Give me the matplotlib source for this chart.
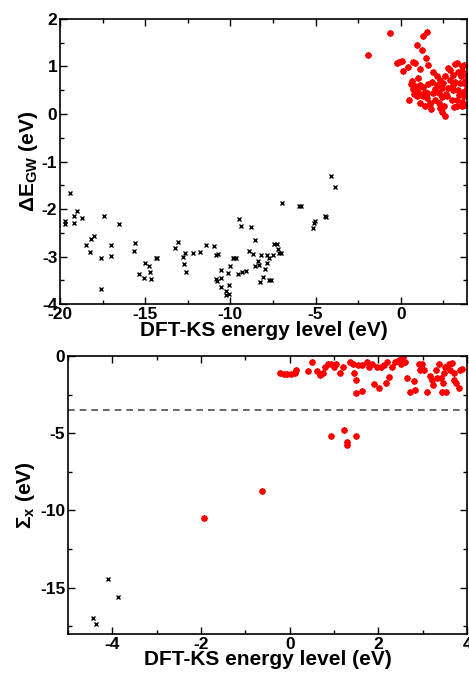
import numpy as np
import matplotlib
matplotlib.use('Agg')
import matplotlib.pyplot as plt
from matplotlib.ticker import MultipleLocator

plt.rcParams['font.family'] = ['Liberation Sans', 'DejaVu Sans']
plt.rcParams['font.weight'] = 'bold'
plt.rcParams['axes.unicode_minus'] = False
plt.rcParams['mathtext.fontset'] = 'custom'
plt.rcParams['mathtext.rm'] = 'Liberation Sans:bold'
plt.rcParams['mathtext.bf'] = 'Liberation Sans:bold'
plt.rcParams['mathtext.it'] = 'Liberation Sans:bold'

# top panel: occupied states (black) and unoccupied states (red)
occ_x = [-19.71, -19.71, -19.39, -19.2, -19.2, -18.98, -18.71, -18.49, -18.22, -18.18,
         -17.98, -17.61, -17.57, -17.40, -17.03, -17.03, -16.56, -15.64, -15.58, -15.36,
         -15.09, -15.03, -14.79, -14.70, -14.64, -14.34, -14.31, -13.27, -13.09, -12.78,
         -12.64, -12.72, -12.58, -12.19, -11.76, -11.45, -10.98, -10.82, -10.70, -10.53,
         -10.82, -10.78, -10.53, -10.55, -10.25, -10.27, -10.08, -10.10, -10.16, -10.02,
         -9.84, -9.67, -9.77, -9.49, -9.39, -9.55, -9.30, -9.06, -8.92, -8.79,
         -8.65, -8.57, -8.53, -8.36, -8.30, -8.18, -8.24, -8.06, -7.96, -7.85,
         -7.85, -7.75, -7.73, -7.59, -7.50, -7.46, -7.26, -7.22, -7.16, -7.03,
         -6.99, -5.99, -5.83, -5.15, -5.11, -5.01, -4.42, -4.36, -4.09, -3.86]
occ_dE = [-2.25, -2.32, -1.67, -2.14, -2.30, -2.05, -2.19, -2.76, -2.91, -2.62,
          -2.56, -3.02, -3.67, -2.15, -2.76, -2.99, -2.32, -2.88, -2.72, -3.37,
          -3.44, -3.13, -3.19, -3.32, -3.48, -3.03, -3.02, -2.81, -2.70, -3.00,
          -2.93, -3.16, -3.33, -2.93, -2.91, -2.76, -2.78, -2.97, -2.95, -3.28,
          -3.46, -3.52, -3.45, -3.63, -3.72, -3.81, -3.79, -3.60, -3.35, -3.19,
          -3.02, -3.02, -3.02, -2.21, -2.36, -3.37, -3.33, -3.31, -2.88, -2.38,
          -2.95, -2.65, -3.19, -3.09, -3.18, -2.96, -3.54, -3.42, -3.26, -2.97,
          -3.14, -3.02, -3.49, -3.49, -2.97, -2.74, -2.74, -2.83, -2.93, -2.93,
          -1.87, -1.93, -1.93, -2.39, -2.30, -2.25, -2.15, -2.17, -1.31, -1.53]

unocc_x = [-0.63, -1.94, 1.29, 1.53, 0.94, 1.24, -0.08, 0.06, -0.20, 0.16,
           0.41, 0.75, 0.86, 1.14, 1.49, 1.63, 1.92, 2.12, 0.65, 0.84,
           1.14, 1.33, 1.04, 0.94, 0.51, 1.53, 1.73, 2.02, 2.22, 2.12,
           2.31, 2.75, 2.90, 3.20, 3.29, 3.59, 3.73, 3.39, 3.53, 3.10,
           2.90, 3.20, 3.49, 3.73, 2.80, 3.10, 3.39, 3.65, 2.71, 3.00,
           3.29, 3.59, 3.78, 2.55, 2.31, 2.61, 1.76, 1.43, 1.14, 1.33,
           1.92, 2.41, 2.51, 1.82, 3.29, 3.59, 3.69, 3.88, 3.88, 2.22,
           1.53, 0.70, 0.78, 0.95, 1.10, 1.40, 1.60, 1.70, 2.00, 2.40,
           2.60, 2.65, 3.05, 3.45, 3.80, 3.15, 2.45, 1.00, 0.60, 3.60]
unocc_dE = [1.70, 1.24, 1.63, 1.72, 1.45, 1.35, 1.10, 1.12, 1.07, 0.91,
            0.98, 1.10, 1.07, 0.95, 1.17, 1.03, 0.89, 0.79, 0.70, 0.59,
            0.61, 0.56, 0.47, 0.37, 0.30, 0.33, 0.23, 0.30, 0.44, 0.61,
            0.72, 0.96, 0.93, 1.05, 1.08, 1.00, 1.03, 0.89, 0.79, 0.82,
            0.72, 0.68, 0.65, 0.65, 0.54, 0.51, 0.51, 0.47, 0.37, 0.30,
            0.30, 0.26, 0.19, 0.16, 0.12, -0.04, 0.10, 0.16, 0.23, 0.37,
            0.44, 0.54, 0.65, 0.68, 0.16, 0.16, 0.37, 0.54, 0.82, 0.23,
            0.45, 0.52, 0.42, 0.55, 0.40, 0.46, 0.62, 0.20, 0.52, 0.36,
            0.80, 0.42, 0.60, 0.40, 0.70, 0.15, 0.05, 0.75, 0.62, 0.90]

# bottom panel: exchange self-energy
occ2_x = [-4.44, -4.36, -4.09, -3.87]
occ2_sx = [-16.95, -17.35, -14.47, -15.63]

unocc2_x = [-1.93, -0.62, 0.92, 1.22, 1.50, 1.28, 1.28,
            -0.21, -0.14, -0.06, 0.03, 0.11, 0.15, 0.41, 0.50, 0.62, 0.69,
            0.75, 0.80, 0.86, 0.92, 0.99, 1.05, 1.13, 1.20, 1.37, 1.43,
            1.46, 1.49, 1.50, 1.64, 1.53, 1.62, 1.74, 1.78, 1.86, 1.89,
            1.97, 2.01, 2.05, 2.12, 2.20, 2.18, 2.23, 2.31, 2.38, 2.46,
            2.50, 2.56, 2.61, 2.65, 2.71, 2.81, 2.83, 2.91, 2.93, 2.98,
            3.02, 3.10, 3.16, 3.21, 3.24, 3.29, 3.36, 3.40, 3.44, 3.46,
            3.51, 3.53, 3.59, 3.62, 3.66, 3.70, 3.76, 3.81, 3.85, 3.88,
            3.70, 3.48, 3.32]
unocc2_sx = [-10.49, -8.71, -5.16, -4.78, -5.20, -5.57, -5.76,
             -1.12, -1.17, -1.17, -1.17, -1.12, -0.91, -0.97, -0.38, -0.95, -1.23,
             -1.08, -0.70, -0.53, -0.53, -0.70, -0.53, -1.08, -0.70, -0.38, -0.49,
             -1.12, -1.55, -2.39, -2.25, -0.59, -0.59, -0.38, -0.70, -0.49, -1.80,
             -0.70, -2.08, -0.70, -0.59, -0.38, -1.72, -1.33, -0.70, -0.38, -0.23,
             -0.49, -0.06, -0.38, -1.44, -2.35, -1.65, -2.22, -0.49, -0.91, -0.49,
             -0.91, -2.35, -1.29, -1.55, -1.86, -0.91, -0.49, -1.44, -2.35, -1.76,
             -0.70, -2.35, -0.49, -0.91, -0.44, -1.08, -1.76, -2.08, -0.91, -0.87,
             -1.55, -1.12, -1.44]

cutoff = -3.5

fig = plt.figure(figsize=(4.69, 6.73), dpi=100)
ax1 = fig.add_axes([0.128, 0.548, 0.868, 0.424])
ax2 = fig.add_axes([0.145, 0.058, 0.851, 0.413])

star = dict(marker=(8, 2, 0), ls='none', color='red', ms=4.5, mew=1.3)
cross = dict(marker='x', ls='none', color='black', ms=3.5, mew=1.0)

ax1.plot(occ_x, occ_dE, **cross)
ax1.plot(unocc_x, unocc_dE, **star)
ax1.set_xlim(-20, 3.9)
ax1.set_ylim(-4, 2)
ax1.xaxis.set_major_locator(MultipleLocator(5))
ax1.xaxis.set_minor_locator(MultipleLocator(2.5))
ax1.yaxis.set_major_locator(MultipleLocator(1))
ax1.yaxis.set_minor_locator(MultipleLocator(0.5))
ax1.set_xlabel('DFT-KS energy level (eV)', fontsize=15, fontweight='bold', labelpad=-1)
ax1.set_ylabel(r'$\Delta$E$_{\rm GW}$ (eV)', fontsize=15, fontweight='bold', labelpad=1)

ax2.plot(occ2_x, occ2_sx, **cross)
ax2.plot(unocc2_x, unocc2_sx, **star)
ax2.axhline(cutoff, color='0.3', ls=(0, (4, 3)), lw=1.2)
ax2.set_xlim(-5, 4)
ax2.set_ylim(-18, 0)
ax2.xaxis.set_major_locator(MultipleLocator(2))
ax2.xaxis.set_minor_locator(MultipleLocator(1))
ax2.yaxis.set_major_locator(MultipleLocator(5))
ax2.yaxis.set_minor_locator(MultipleLocator(2.5))
ax2.set_xlabel('DFT-KS energy level (eV)', fontsize=15, fontweight='bold', labelpad=-1)
ax2.set_ylabel(r'$\Sigma_{\rm x}$ (eV)', fontsize=15, fontweight='bold', labelpad=2)

for ax in (ax1, ax2):
    ax.tick_params(which='both', direction='in', top=True, right=True, labelsize=12.5, width=1)
    ax.tick_params(which='major', length=5, pad=2)
    ax.tick_params(which='minor', length=3)
    for lbl in ax.get_xticklabels() + ax.get_yticklabels():
        lbl.set_fontweight('bold')
    for s in ax.spines.values():
        s.set_linewidth(1.2)

fig.savefig('out.png', dpi=100)
